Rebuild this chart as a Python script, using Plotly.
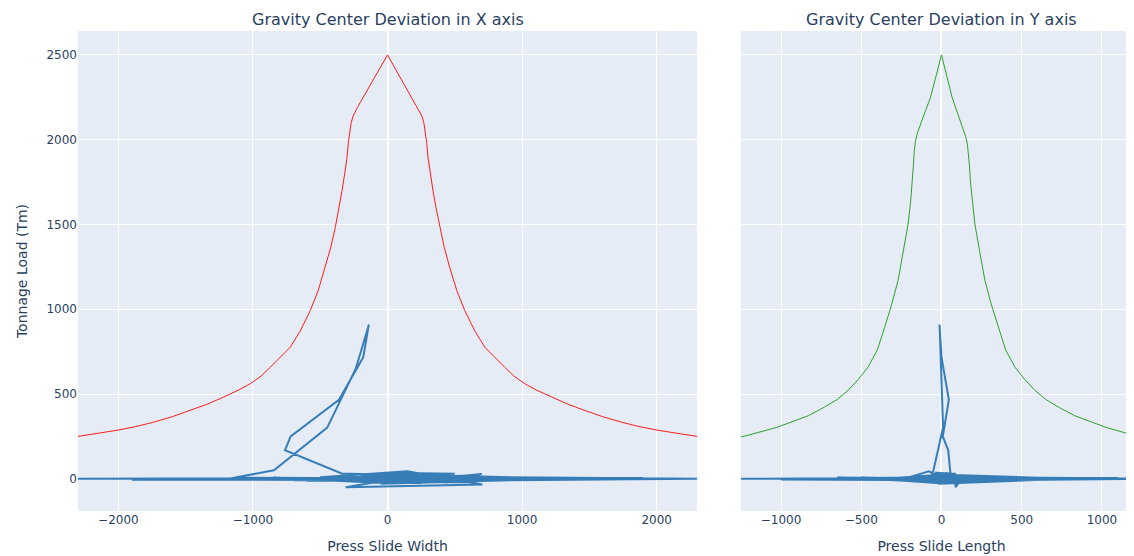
import plotly.graph_objects as go
from plotly.subplots import make_subplots

# Reference capacity curves
red_x = [-2300, -2150, -2011, -1870, -1738, -1600, -1466, -1340, -1218, -1110, -1020, -940, -871, -800, -723, -650,
         -574, -515, -462, -420, -388, -360, -338, -318, -301, -290, -280, -270, -255, -240, -224,
         0,
         224, 240, 255, 270, 280, 290, 301, 318, 338, 360, 388, 420, 462, 515, 574,
         650, 723, 800, 871, 940, 1020, 1110, 1218, 1340, 1466, 1600, 1738, 1870, 2011, 2150, 2300]
red_y = [250, 268, 286, 308, 334, 366, 403, 440, 482, 522, 561, 605, 658, 712, 776, 870,
         992, 1110, 1247, 1370, 1483, 1600, 1699, 1800, 1895, 1990, 2050, 2100, 2140, 2165, 2190,
         2500,
         2190, 2165, 2140, 2100, 2050, 1990, 1895, 1800, 1699, 1600, 1483, 1370, 1247, 1110, 992,
         870, 776, 712, 658, 605, 561, 522, 482, 440, 403, 366, 334, 308, 286, 268, 250]

green_x = [-1250, -1125, -1030, -938, -830, -729, -650, -583, -520, -458, -400, -354, -310, -271, -240, -208,
           -192, -180, -175, -170, -162, -150, -131, -100, -69,
           0,
           67, 100, 131, 150, 162, 170, 175, 180, 192, 208, 240, 271, 310, 354, 400, 458, 520, 583, 650,
           729, 830, 938, 1030, 1125, 1250]
green_y = [246, 276, 302, 334, 372, 423, 468, 521, 585, 658, 760, 894, 1030, 1169, 1330, 1503,
           1640, 1758, 1850, 1930, 1990, 2040, 2094, 2170, 2247,
           2500,
           2247, 2160, 2070, 2020, 1970, 1900, 1840, 1758, 1640, 1503, 1330, 1169, 1030, 894, 760, 658, 585, 521, 468,
           423, 372, 334, 302, 276, 246]

# Measured gravity-center trajectory (load vs. deviation in X and Y)
load = [0, 4, -3, 8, 0, 0, -6, 3, -7, 12, -5, 6, 18, -8, -4, 5, -7, 9, 0, 1,
        50, 302, 649, 910, 905, 717, 466, 250, 168, 31,
        20, -50, -34, 44, 9, 10, 0, 0, 5, -5, 30, 36, 25, -15, -20, 8, 2, -3, 10, -10, 0,
        -6, 8, -9, 22, 18, -6, 7, -25, 28, -30, 4, -4, 15, -12, 0, 0, 5, 26, -22, 10, 18, -6, 3, -18, 32,
        -12, 14, -4, 6, -28, 20, -8, 0]
x_dev = [0, 150, -300, 700, -2300, 2300, -1900, 1500, -600, 400, -1000, 900, -200, 300, -1700, 1900, -900, 600, 2300, -1178,
         -844, -448, -236, -138, -140, -180, -361, -720, -762, -341,
         200, -311, 705, 147, -500, 800, 2300, -2300, 1200, -800, 500, 0, 300, -100, 600, -400, 1800, -1500, 100, 650, 2300,
         -1900, 900, -700, 400, -200, 1000, -1100, 250, 700, -50, 1500, -1300, 350, -600, 2300, -2300, 1100, 150, 450, -300, 550,
         -1000, 1700, -250, 200, 750, -150, 1300, -850, 50, 600, -450, 2300]
y_dev = [0, 30, -100, 90, -1250, 1250, -880, 800, -300, 60, -600, 500, -50, 70, -1000, 1100, -500, 350, 1250, -70,
         -50, 10, -5, -12, -12, 0, 46, 8, 42, 56,
         80, 88, 100, -79, -200, 300, 1250, -1250, 700, -450, 90, -40, 60, -60, 110, -150, 1000, -900, 40, 100, 1250,
         -880, 400, -300, 80, -90, 600, -650, 60, 90, -20, 900, -800, 100, -250, 1250, -1250, 650, -30, 100, -100, 80,
         -600, 1000, -70, 30, 60, -60, 750, -500, 10, 105, -180, 1250]

FONT = "DejaVu Sans, Verdana, sans-serif"
X_DOM = [0, 0.5818]
Y_DOM = [0.6231, 1]

fig = make_subplots(rows=1, cols=2, shared_yaxes=True,
                    subplot_titles=("Gravity Center Deviation in X axis", "Gravity Center Deviation in Y axis"))

fig.add_trace(go.Scatter(x=red_x, y=red_y, mode="lines", line=dict(color="#ff1a1a", width=1), showlegend=False), 1, 1)
fig.add_trace(go.Scatter(x=x_dev, y=load, mode="lines", line=dict(color="#377eb8", width=2), showlegend=False), 1, 1)
fig.add_trace(go.Scatter(x=green_x, y=green_y, mode="lines", line=dict(color="#2ca02c", width=1), showlegend=False), 1, 2)
fig.add_trace(go.Scatter(x=y_dev, y=load, mode="lines", line=dict(color="#377eb8", width=2), showlegend=False), 1, 2)

fig.update_layout(
    width=1134, height=556,
    margin=dict(l=70, r=0, t=23, b=53),
    template="plotly",
    font=dict(family=FONT),
)
fig.layout.annotations[0].update(x=(X_DOM[0] + X_DOM[1]) / 2, font=dict(family=FONT, size=16))
fig.layout.annotations[1].update(x=(Y_DOM[0] + Y_DOM[1]) / 2, font=dict(family=FONT, size=16))
fig.update_xaxes(domain=X_DOM, range=[-2300, 2300], dtick=1000, title_text="Press Slide Width",
                 automargin=False, row=1, col=1)
fig.update_xaxes(domain=Y_DOM, range=[-1250, 1250], dtick=500, title_text="Press Slide Length",
                 automargin=False, row=1, col=2)
fig.update_yaxes(range=[-190, 2641], dtick=500, automargin=False, row=1, col=1, title_text="Tonnage Load (Tm)")
fig.update_yaxes(range=[-190, 2641], dtick=500, automargin=False, row=1, col=2)

fig.write_html("out.html")
